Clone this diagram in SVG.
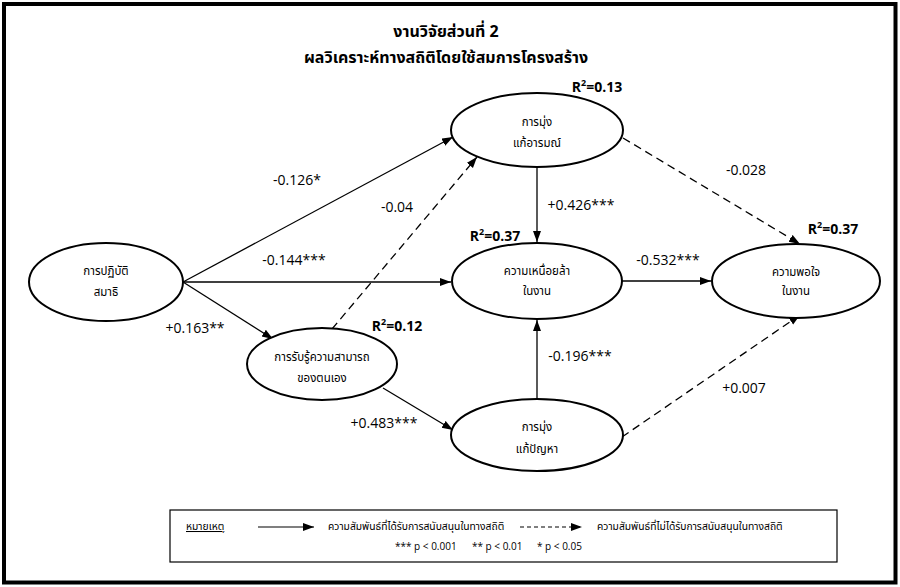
<svg xmlns="http://www.w3.org/2000/svg" width="900" height="587" viewBox="0 0 900 587">
<style>
.node ellipse{fill:#fff;stroke:#000;stroke-width:2}
.nt{font-family:"Noto Sans Thai","Tahoma","Noto Sans",sans-serif;font-size:11.5px;text-anchor:middle;fill:#000}
.title{font-family:"Noto Sans Thai","Tahoma","Noto Sans",sans-serif;font-size:16px;font-weight:bold;text-anchor:middle;fill:#000}
.el{font-family:"Open Sans","Liberation Sans",sans-serif;font-size:14px;text-anchor:middle;fill:#000}
.r2{font-family:"Open Sans","Liberation Sans",sans-serif;font-size:14px;font-weight:bold;text-anchor:middle;fill:#000}
.sup{font-size:9px}
.sol{stroke:#000;stroke-width:1.3;fill:none;marker-end:url(#ah)}
.dsh{stroke:#000;stroke-width:1.3;fill:none;stroke-dasharray:8 5;marker-end:url(#ah)}
.lg{font-family:"Noto Sans Thai","Tahoma","Noto Sans",sans-serif;font-size:10.3px;fill:#000}
.lgn{font-family:"Open Sans","Liberation Sans",sans-serif;font-size:10px;fill:#000}
</style>
<defs>
<marker id="ah" markerUnits="userSpaceOnUse" markerWidth="12" markerHeight="10" refX="11" refY="4" orient="auto">
<path d="M0,0 L11,4 L0,8 Z" fill="#000"/>
</marker>
</defs>
<rect x="0" y="0" width="900" height="587" fill="#fff"/>
<rect x="4" y="4" width="891.5" height="578.5" fill="none" stroke="#000" stroke-width="4"/>
<text class="title" x="446" y="37">งานวิจัยส่วนที่ 2</text>
<text class="title" x="446" y="63">ผลวิเคราะห์ทางสถิติโดยใช้สมการโครงสร้าง</text>

<g id="connectors">
<line class="sol" x1="183" y1="282" x2="453" y2="137"/>
<line class="sol" x1="183" y1="282" x2="451" y2="282"/>
<line class="sol" x1="183" y1="282" x2="273" y2="339"/>
<line class="dsh" x1="332" y1="329" x2="477" y2="157"/>
<line class="sol" x1="537" y1="167" x2="537" y2="242"/>
<line class="sol" x1="383" y1="388" x2="453" y2="430"/>
<line class="sol" x1="537" y1="400" x2="537" y2="320"/>
<line class="sol" x1="622" y1="281" x2="711" y2="281"/>
<line class="dsh" x1="623" y1="138" x2="800" y2="244"/>
<line class="dsh" x1="622" y1="437" x2="800" y2="315"/>
</g>

<g id="n-samadhi" class="node">
<ellipse cx="106" cy="282" rx="77" ry="39"/>
<text class="nt" x="106" y="275">การปฏิบัติ</text>
<text class="nt" x="106" y="296">สมาธิ</text>
</g>
<g id="n-emotion" class="node">
<ellipse cx="537" cy="130" rx="86" ry="37"/>
<text class="nt" x="537" y="126">การมุ่ง</text>
<text class="nt" x="537" y="147">แก้อารมณ์</text>
</g>
<g id="n-burnout" class="node">
<ellipse cx="537" cy="281" rx="85" ry="38"/>
<text class="nt" x="537" y="275">ความเหนื่อยล้า</text>
<text class="nt" x="537" y="295">ในงาน</text>
</g>
<g id="n-satisfaction" class="node">
<ellipse cx="796" cy="281" rx="84" ry="37"/>
<text class="nt" x="796" y="276">ความพอใจ</text>
<text class="nt" x="796" y="295">ในงาน</text>
</g>
<g id="n-efficacy" class="node">
<ellipse cx="322" cy="364" rx="75" ry="36"/>
<text class="nt" x="322" y="361">การรับรู้ความสามารถ</text>
<text class="nt" x="322" y="382">ของตนเอง</text>
</g>
<g id="n-problem" class="node">
<ellipse cx="537" cy="435" rx="86" ry="36"/>
<text class="nt" x="537" y="431">การมุ่ง</text>
<text class="nt" x="537" y="453">แก้ปัญหา</text>
</g>

<g id="labels">
<text class="el" x="297" y="185">-0.126*</text>
<text class="el" x="397" y="212">-0.04</text>
<text class="el" x="294" y="265">-0.144***</text>
<text class="el" x="195" y="333">+0.163**</text>
<text class="el" x="581" y="210">+0.426***</text>
<text class="el" x="668" y="265">-0.532***</text>
<text class="el" x="746" y="175">-0.028</text>
<text class="el" x="580" y="361">-0.196***</text>
<text class="el" x="384" y="428">+0.483***</text>
<text class="el" x="744" y="393">+0.007</text>
<text class="r2" x="597" y="92">R<tspan class="sup" dy="-6">2</tspan><tspan dy="6">=0.13</tspan></text>
<text class="r2" x="495" y="241">R<tspan class="sup" dy="-6">2</tspan><tspan dy="6">=0.37</tspan></text>
<text class="r2" x="833" y="234">R<tspan class="sup" dy="-6">2</tspan><tspan dy="6">=0.37</tspan></text>
<text class="r2" x="397" y="331">R<tspan class="sup" dy="-6">2</tspan><tspan dy="6">=0.12</tspan></text>
</g>

<g id="legend">
<rect x="170" y="510" width="667" height="52" fill="#fff" stroke="#000" stroke-width="1.2"/>
<text class="lg" x="186" y="530" text-decoration="underline">หมายเหตุ</text>
<line x1="258" y1="527" x2="314" y2="527" stroke="#000" stroke-width="1.2" marker-end="url(#ah)"/>
<text class="lg" x="328" y="530">ความสัมพันธ์ที่ได้รับการสนับสนุนในทางสถิติ</text>
<line x1="520" y1="527" x2="582" y2="527" stroke="#000" stroke-width="1.2" stroke-dasharray="4 3" marker-end="url(#ah)"/>
<text class="lg" x="597" y="530">ความสัมพันธ์ที่ไม่ได้รับการสนับสนุนในทางสถิติ</text>
<text class="lgn" y="550"><tspan x="395">*** p &lt; 0.001</tspan><tspan x="472">** p &lt; 0.01</tspan><tspan x="537">* p &lt; 0.05</tspan></text>
</g>
</svg>
